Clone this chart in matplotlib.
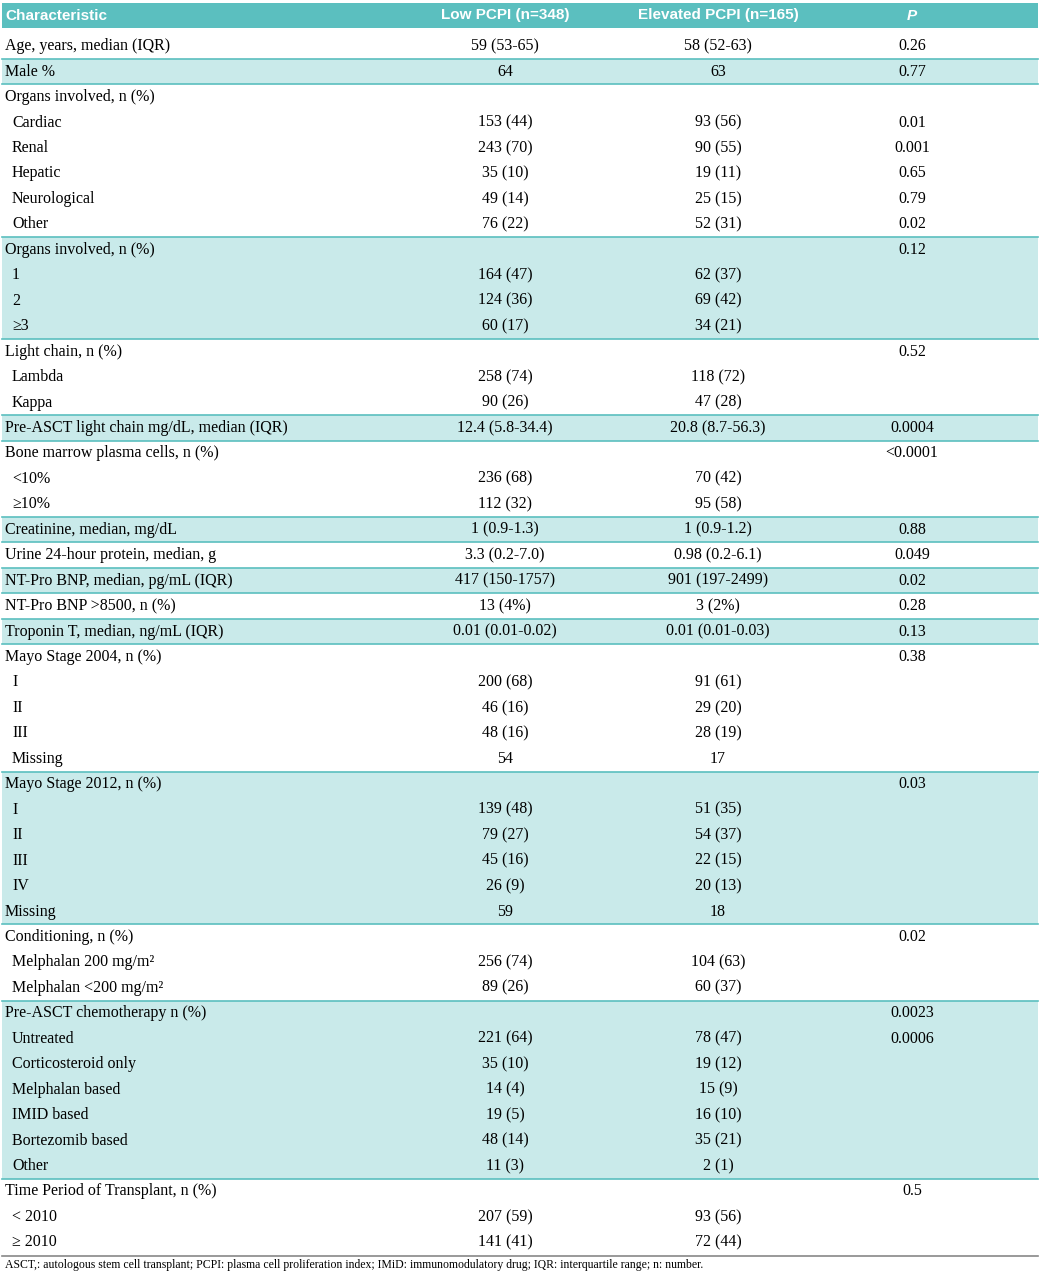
import matplotlib
matplotlib.use("Agg")
import matplotlib.pyplot as plt
from matplotlib.patches import Rectangle

headers = ["Characteristic", "Low PCPI (n=348)", "Elevated PCPI (n=165)", "P"]

# groups: (shaded, rows) ; row = (label, low, elevated, p)
groups = [
    (False, [("Age, years, median (IQR)", "59 (53-65)", "58 (52-63)", "0.26")]),
    (True, [("Male %", "64", "63", "0.77")]),
    (False, [("Organs involved, n (%)", "", "", ""),
             (" Cardiac", "153 (44)", "93 (56)", "0.01"),
             (" Renal", "243 (70)", "90 (55)", "0.001"),
             (" Hepatic", "35 (10)", "19 (11)", "0.65"),
             (" Neurological", "49 (14)", "25 (15)", "0.79"),
             (" Other", "76 (22)", "52 (31)", "0.02")]),
    (True, [("Organs involved, n (%)", "", "", "0.12"),
            (" 1", "164 (47)", "62 (37)", ""),
            (" 2", "124 (36)", "69 (42)", ""),
            (" ≥3", "60 (17)", "34 (21)", "")]),
    (False, [("Light chain, n (%)", "", "", "0.52"),
             (" Lambda", "258 (74)", "118 (72)", ""),
             (" Kappa", "90 (26)", "47 (28)", "")]),
    (True, [("Pre-ASCT light chain mg/dL, median (IQR)", "12.4 (5.8-34.4)", "20.8 (8.7-56.3)", "0.0004")]),
    (False, [("Bone marrow plasma cells, n (%)", "", "", "<0.0001"),
             (" <10%", "236 (68)", "70 (42)", ""),
             (" ≥10%", "112 (32)", "95 (58)", "")]),
    (True, [("Creatinine, median, mg/dL", "1 (0.9-1.3)", "1 (0.9-1.2)", "0.88")]),
    (False, [("Urine 24-hour protein, median, g", "3.3 (0.2-7.0)", "0.98 (0.2-6.1)", "0.049")]),
    (True, [("NT-Pro BNP, median, pg/mL (IQR)", "417 (150-1757)", "901 (197-2499)", "0.02")]),
    (False, [("NT-Pro BNP >8500, n (%)", "13 (4%)", "3 (2%)", "0.28")]),
    (True, [("Troponin T, median, ng/mL (IQR)", "0.01 (0.01-0.02)", "0.01 (0.01-0.03)", "0.13")]),
    (False, [("Mayo Stage 2004, n (%)", "", "", "0.38"),
             (" I", "200 (68)", "91 (61)", ""),
             (" II", "46 (16)", "29 (20)", ""),
             (" III", "48 (16)", "28 (19)", ""),
             (" Missing", "54", "17", "")]),
    (True, [("Mayo Stage 2012, n (%)", "", "", "0.03"),
            (" I", "139 (48)", "51 (35)", ""),
            (" II", "79 (27)", "54 (37)", ""),
            (" III", "45 (16)", "22 (15)", ""),
            (" IV", "26 (9)", "20 (13)", ""),
            ("Missing", "59", "18", "")]),
    (False, [("Conditioning, n (%)", "", "", "0.02"),
             (" Melphalan 200 mg/m²", "256 (74)", "104 (63)", ""),
             (" Melphalan <200 mg/m²", "89 (26)", "60 (37)", "")]),
    (True, [("Pre-ASCT chemotherapy n (%)", "", "", "0.0023"),
            (" Untreated", "221 (64)", "78 (47)", "0.0006"),
            (" Corticosteroid only", "35 (10)", "19 (12)", ""),
            (" Melphalan based", "14 (4)", "15 (9)", ""),
            (" IMID based", "19 (5)", "16 (10)", ""),
            (" Bortezomib based", "48 (14)", "35 (21)", ""),
            (" Other", "11 (3)", "2 (1)", "")]),
    (False, [("Time Period of Transplant, n (%)", "", "", "0.5"),
             (" < 2010", "207 (59)", "93 (56)", ""),
             (" ≥ 2010", "141 (41)", "72 (44)", "")]),
]
footnote = "ASCT,: autologous stem cell transplant; PCPI: plasma cell proliferation index; IMiD: immunomodulatory drug; IQR: interquartile range; n: number."

W, H = 1044, 1280
fig = plt.figure(figsize=(W/100, H/100), dpi=100)
ax = fig.add_axes([0, 0, 1, 1])
ax.set_xlim(0, W); ax.set_ylim(H, 0); ax.axis("off")

teal = "#5bbfbf"; shade = "#c9eaea"
serif = ["Liberation Serif", "DejaVu Serif"]
fs = 11.5
colx = [5, 505, 718, 912]
left, right = 2, 1038

ax.add_patch(Rectangle((left, 3), right-left, 25, color=teal, lw=0))
hfont = dict(color="white", fontweight="bold", fontsize=11, va="center",
             family=["Liberation Sans Narrow", "Liberation Sans", "DejaVu Sans"])
ax.text(colx[0], 15.5, headers[0], ha="left", **hfont)
ax.text(colx[1], 15.5, headers[1], ha="center", **hfont)
ax.text(colx[2], 15.5, headers[2], ha="center", **hfont)
ax.text(colx[3], 15.5, headers[3], ha="center", style="italic", **hfont)

rh = 25.45
y0 = 33.5
y = y0
for shaded, rows in groups:
    top = y
    bot = y + rh*len(rows)
    if shaded:
        ax.add_patch(Rectangle((left, top), right-left, bot-top, color=shade, lw=0))
        ax.plot([left, right], [top, top], color=teal, lw=1.2)
        ax.plot([left, right], [bot, bot], color=teal, lw=1.2)
    for lab, lo, el, p in rows:
        cy = y + rh/2
        indent = 7 if lab.startswith(" ") else 0
        ax.text(colx[0]+indent, cy, lab.strip(), ha="left", va="center", fontsize=fs, family=serif)
        for x, t in zip(colx[1:], (lo, el, p)):
            if t:
                ax.text(x, cy, t, ha="center", va="center", fontsize=fs, family=serif)
        y += rh
ax.plot([left, right], [y+1, y+1], color="#888888", lw=1.2)
ax.text(5, y+10, footnote, ha="left", va="center", fontsize=8.5, family=serif)

fig.savefig("out.png", dpi=100)
